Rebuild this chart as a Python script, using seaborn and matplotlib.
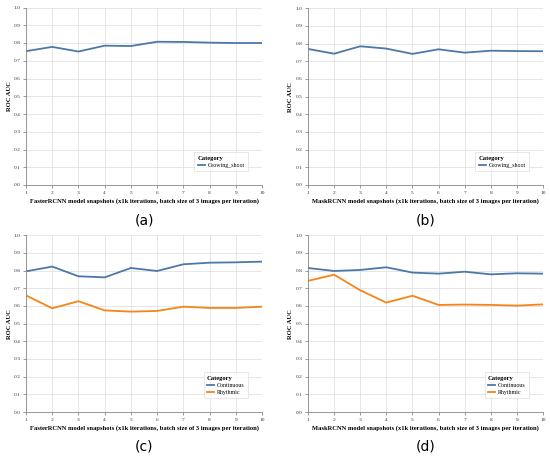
import matplotlib
matplotlib.use("Agg")
import matplotlib.pyplot as plt
import seaborn as sns
import pandas as pd
import numpy as np

snapshots = [1, 2, 3, 4, 5, 6, 7, 8, 9, 10]

a_growing = [0.754, 0.778, 0.752, 0.785, 0.783, 0.807, 0.806, 0.802, 0.800, 0.800]
b_growing = [0.770, 0.743, 0.785, 0.772, 0.742, 0.768, 0.749, 0.760, 0.758, 0.757]
c_continuous = [0.796, 0.823, 0.768, 0.762, 0.815, 0.798, 0.836, 0.845, 0.847, 0.851]
c_rhythmic = [0.660, 0.587, 0.627, 0.575, 0.568, 0.572, 0.596, 0.589, 0.589, 0.596]
d_continuous = [0.815, 0.798, 0.804, 0.819, 0.789, 0.783, 0.794, 0.779, 0.785, 0.783]
d_rhythmic = [0.742, 0.777, 0.689, 0.619, 0.658, 0.606, 0.608, 0.606, 0.602, 0.609]

y_ticks = [0.0, 0.1, 0.2, 0.3, 0.4, 0.5, 0.6, 0.7, 0.8, 0.9, 1.0]
x_label_faster = "FasterRCNN model snapshots (x1k iterations, batch size of 3 images per iteration)"
x_label_mask = "MaskRCNN model snapshots (x1k iterations, batch size of 3 images per iteration)"
captions = ["(a)", "(b)", "(c)", "(d)"]

BLUE = "#4c78a8"
ORANGE = "#f58518"

def make_df(series):
    rows = []
    for name, vals in series:
        for s, v in zip(snapshots, vals):
            rows.append({"snapshot": s, "ROC AUC": v, "Category": name})
    return pd.DataFrame(rows)

panels = [
    (make_df([("Growing_shoot", a_growing)]), x_label_faster, (26, 262, 7.5, 185), 9.5),
    (make_df([("Growing_shoot", b_growing)]), x_label_mask, (308, 543, 8.3, 185), 290),
    (make_df([("Continuous", c_continuous), ("Rhythmic", c_rhythmic)]), x_label_faster, (26, 262, 235.3, 412), 9.5),
    (make_df([("Continuous", d_continuous), ("Rhythmic", d_rhythmic)]), x_label_mask, (308, 543, 235.3, 412), 290),
]
palette = {"Growing_shoot": BLUE, "Continuous": BLUE, "Rhythmic": ORANGE}

W, H = 550, 457
fig = plt.figure(figsize=(W / 100, H / 100), dpi=100)
serif = "Liberation Serif"

for i, (df, xlabel, (l, r, t, b), ylx) in enumerate(panels):
    ax = fig.add_axes([l / W, 1 - b / H, (r - l) / W, (b - t) / H])
    sns.lineplot(data=df, x="snapshot", y="ROC AUC", hue="Category", palette=palette,
                 ax=ax, linewidth=1.3, estimator=None)
    ax.set_xlim(1, 10)
    ax.set_ylim(0, 1)
    ax.set_xticks(snapshots)
    ax.set_yticks(y_ticks)
    ax.set_yticklabels([f"{v:.1f}" for v in y_ticks])
    ax.grid(True, color="#e2e2e2", linewidth=0.6)
    ax.set_axisbelow(True)
    for s in ["top", "right"]:
        ax.spines[s].set_visible(False)
    for s in ["left", "bottom"]:
        ax.spines[s].set_color("#888888")
        ax.spines[s].set_linewidth(0.6)
    ax.tick_params(axis="both", length=2.5, width=0.6, color="#888888", labelsize=3.9,
                   labelcolor="#333333", pad=1.5)
    for lab in ax.get_xticklabels() + ax.get_yticklabels():
        lab.set_fontfamily(serif)
    ax.set_xlabel(xlabel, fontsize=4.7, fontweight="bold", fontfamily=serif)
    ax.set_ylabel("ROC AUC", fontsize=4.7, fontweight="bold", fontfamily=serif)
    ax.xaxis.set_label_coords(0.5, -(201 - b) / (b - t) - 2 * 201 / (b - t) + 2 * 201 / (b - t) if False else -(201 - 185) / (b - t))
    ax.yaxis.set_label_coords((ylx - l) / (r - l), 0.5)
    ax.xaxis.label.set_va("center")
    ax.yaxis.label.set_va("center")
    leg = ax.legend(loc="lower right", bbox_to_anchor=(1 - 11 / (r - l), 11 / (b - t)),
                    title="Category", prop={"family": serif, "size": 4.2},
                    title_fontproperties={"family": serif, "size": 4.7, "weight": "bold"},
                    frameon=True, fancybox=False, handlelength=1.2, borderpad=0.6,
                    labelspacing=0.3, handletextpad=0.5)
    leg._legend_box.align = "left"
    leg.get_frame().set_edgecolor("#dddddd")
    leg.get_frame().set_linewidth(0.6)
    for line in leg.get_lines():
        line.set_linewidth(1.3)
    cx = (l + r) / 2 / W
    cy = 1 - (220 if i < 2 else 447) / H
    fig.text(cx, cy, captions[i], ha="center", va="center", fontsize=10,
             fontfamily="DejaVu Sans")

fig.savefig("out.png", dpi=100)
